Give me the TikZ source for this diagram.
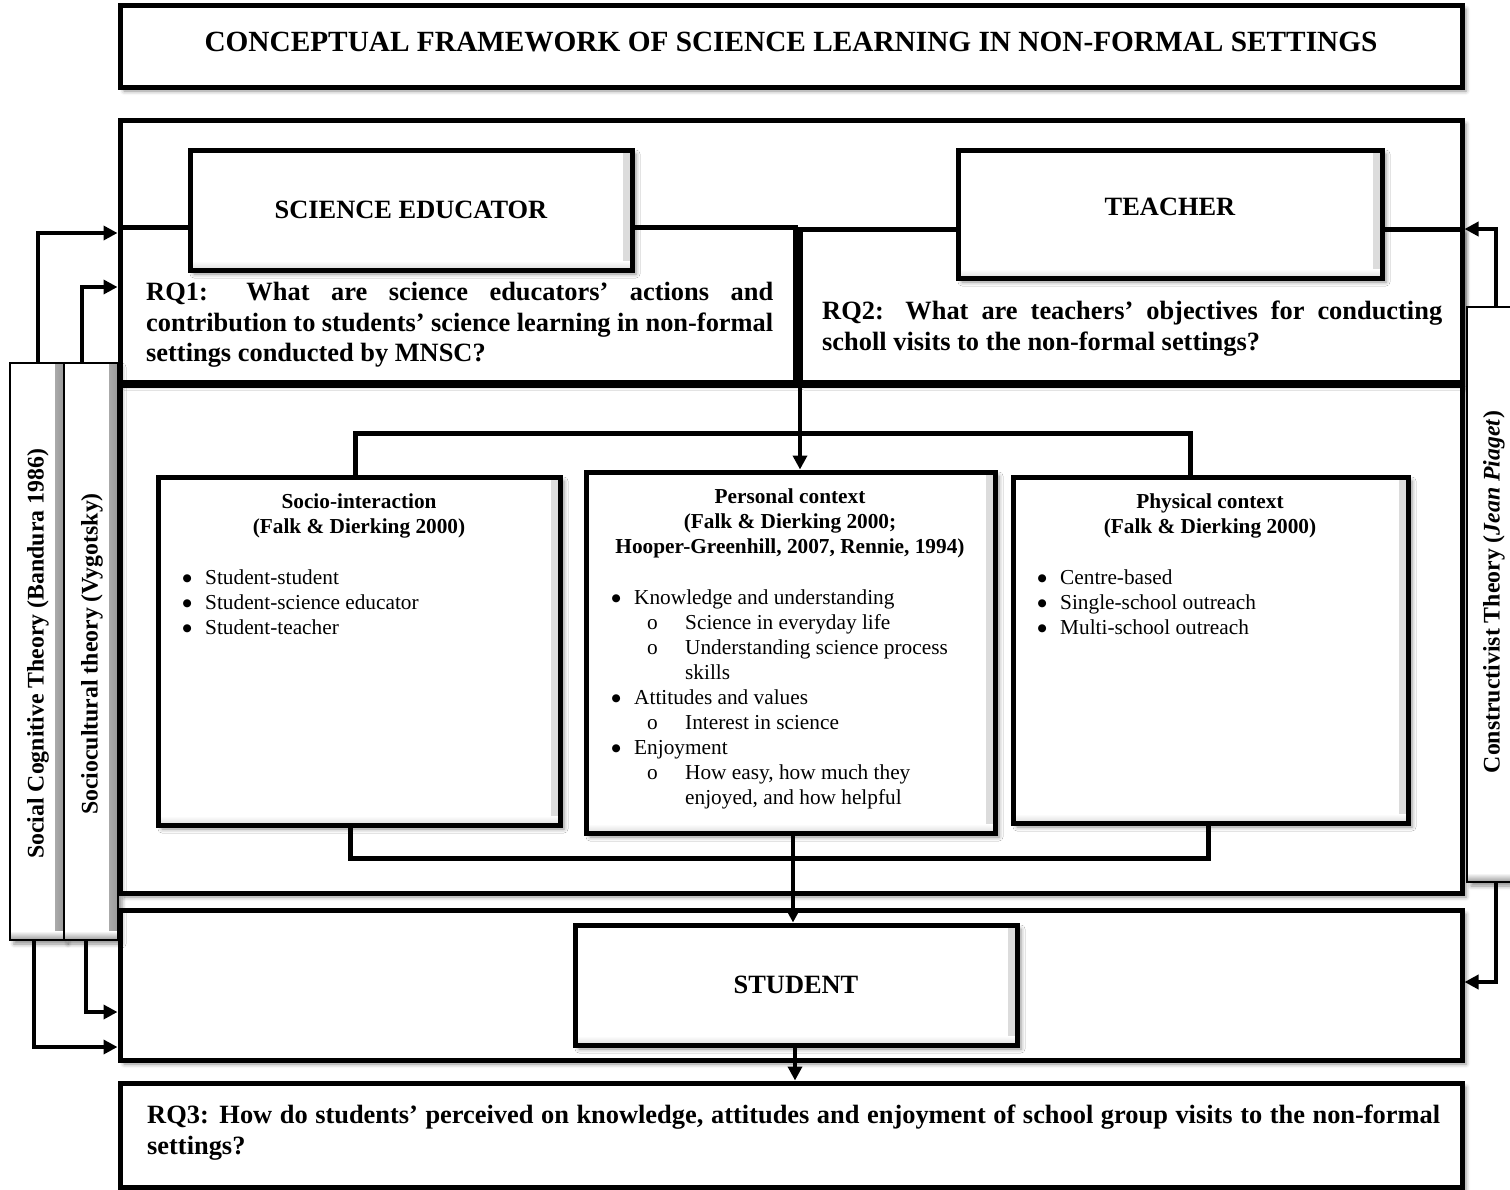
\documentclass[tikz,border=0pt]{standalone}
\usepackage{fontspec}
\setmainfont{Liberation Serif}
\newfontfamily\symfont{DejaVu Sans}
\usetikzlibrary{arrows.meta,shadows.blur}

% type sizes
\newcommand\txtbody{\fontsize{21.3}{25}\selectfont}
\newcommand\txthead{\fontsize{21.3}{25}\selectfont\bfseries}
\newcommand\txtrq{\fontsize{26.4}{30.5}\selectfont\bfseries}
\newcommand\txtbar{\fontsize{23.8}{28}\selectfont\bfseries}
\newcommand\txttitle{\fontsize{29.3}{34}\selectfont\bfseries}
% list markers
\newcommand\bul{\makebox[22pt][l]{\hspace*{-0.5pt}\raisebox{3.5pt}{\symfont\fontsize{10.5}{25}\selectfont ●}}}
\newcommand\subbul{\hspace*{35pt}\makebox[38pt][l]{o}}
\newcommand\subcont{\hspace*{73pt}}

\begin{document}
\begin{tikzpicture}[x=1pt,y=-1pt,
  softshadow/.style={blur shadow={shadow xshift=4pt,shadow yshift=-4pt,
      shadow blur radius=4pt,shadow opacity=45}},
  bevel/.style={path picture={
      \shade[left color=white,right color=black!#1]
        ([xshift=-9pt]path picture bounding box.north east)
        rectangle (path picture bounding box.south east);
      \shade[top color=white,bottom color=black!#1]
        ([yshift=9pt]path picture bounding box.south west)
        rectangle (path picture bounding box.south east);}},
  heavybox/.style={draw=black,line width=5pt,fill=white,inner sep=0pt,softshadow},
  keybox/.style={heavybox,bevel=14},
  barbox/.style={draw=black,line width=2pt,fill=white,inner sep=0pt,softshadow,bevel=40},
  txt/.style={inner sep=0pt,align=left},
  hdr/.style={inner sep=0pt,align=center,font=\txthead},
  lst/.style={inner sep=0pt,align=left,font=\txtbody},
  bartxt/.style={inner sep=0pt,font=\txtbar,rotate=90},
  conn/.style={line width=5pt},
  arr/.style={line width=4pt,-{Triangle[length=14pt,width=14pt]}}
]
\useasboundingbox (0,0) rectangle (1510,1189);

% ---- title ----
\node[heavybox,minimum width=1342,minimum height=82] (titlebox) at (791,46) {};
\node[inner sep=0pt,font=\txttitle] (ttl) at (791,42)
  {CONCEPTUAL FRAMEWORK OF SCIENCE LEARNING IN NON-FORMAL SETTINGS};

% ---- outer frames ----
\node[heavybox,minimum width=1342,minimum height=265] (frtop) at (791,252.5) {};
\node[heavybox,minimum width=1342,minimum height=508] (frmid) at (791,639) {};
\node[heavybox,minimum width=1342,minimum height=150] (frst) at (791,985) {};
\node[heavybox,minimum width=1342,minimum height=104] (rq3b) at (791,1135) {};
\node[txt,font=\txtrq,anchor=north west] (rq3t) at (147,1105)
  {\makebox[1293pt][s]{RQ3: How do students’ perceived on knowledge, attitudes and enjoyment of school group visits to the non-formal}\\
   settings?};

% ---- research questions 1 and 2 ----
\node[heavybox,minimum width=675,minimum height=155] (rq1b) at (457.5,304.5) {};
\node[heavybox,minimum width=662,minimum height=153] (rq2b) at (1131,305.5) {};
\coordinate (join) at (800,227);

% ---- actors ----
\node[keybox,minimum width=442,minimum height=120,font=\txtrq] (se) at (411,210)
  {SCIENCE EDUCATOR};
\node[keybox,minimum width=424,minimum height=128] (te) at (1170,214) {};
\node[inner sep=0pt,font=\txtrq] (tet) at (1170,207) {TEACHER};

\node[txt,font=\txtrq,anchor=north west] (rq1t) at (146,282)
  {\makebox[627pt][s]{RQ1: What are science educators’ actions and}\\
   \makebox[627pt][s]{contribution to students’ science learning in non-formal}\\
   settings conducted by MNSC?};
\node[txt,font=\txtrq,anchor=north west] (rq2t) at (822,301)
  {\makebox[620pt][s]{RQ2: What are teachers’ objectives for conducting}\\
   scholl visits to the non-formal settings?};

% ---- contexts ----
\node[keybox,minimum width=402,minimum height=348] (si) at (359,651) {};
\node[keybox,minimum width=409,minimum height=361] (pc) at (790.5,652.5) {};
\node[keybox,minimum width=395,minimum height=346] (ph) at (1210.5,650) {};

\draw[conn] (355,0 |- si.north) -- (355,433) -- (1190,433) -- (1190,0 |- ph.north);
\draw[conn] (350,0 |- si.south) -- (350,858) -- (1208,858) -- (1208,0 |- ph.south);
\draw[arr] (join) -- (join |- pc.north);

\node[hdr,anchor=north] (sih) at (359,494)
  {Socio-interaction\\(Falk \& Dierking 2000)};
\node[lst,anchor=north west] (sil) at (183,570)
  {\bul Student-student\\
   \bul Student-science educator\\
   \bul Student-teacher};

\node[hdr,anchor=north] (pch) at (790,489)
  {Personal context\\(Falk \& Dierking 2000;\\Hooper-Greenhill, 2007, Rennie, 1994)};
\node[lst,anchor=north west] (pcl) at (612,590)
  {\bul Knowledge and understanding\\
   \subbul Science in everyday life\\
   \subbul Understanding science process\\
   \subcont skills\\
   \bul Attitudes and values\\
   \subbul Interest in science\\
   \bul Enjoyment\\
   \subbul How easy, how much they\\
   \subcont enjoyed, and how helpful};

\node[hdr,anchor=north] (phh) at (1210,494)
  {Physical context\\(Falk \& Dierking 2000)};
\node[lst,anchor=north west] (phl) at (1038,570)
  {\bul Centre-based\\
   \bul Single-school outreach\\
   \bul Multi-school outreach};

% ---- student ----
\node[keybox,minimum width=442,minimum height=120,font=\txtrq] (st) at (796,985) {STUDENT};
\draw[arr] (793,0 |- pc.south) -- (793,0 |- st.north);
\draw[arr] (795,0 |- st.south) -- (795,0 |- rq3b.north);

% ---- theory bars ----
\node[barbox,minimum width=54,minimum height=577] (sct) at (37,651.5) {};
\node[barbox,minimum width=54,minimum height=577] (scb) at (91,651.5) {};
\node[barbox,minimum width=55,minimum height=575] (cst) at (1494.5,594.5) {};
\node[bartxt] (sctt) at (38,654) {Social Cognitive Theory (Bandura 1986)};
\node[bartxt] (scbt) at (92,654) {Sociocultural theory (Vygotsky)};
\node[bartxt] (cstt) at (1494,592) {Constructivist Theory (\textit{Jean Piaget})};

\draw[arr] (38,0 |- sct.north) |- (frtop.west |- 0,233);
\draw[arr] (82,0 |- scb.north) |- (frtop.west |- 0,287);
\draw[arr] (86,0 |- scb.south) |- (frst.west |- 0,1012);
\draw[arr] (34,0 |- sct.south) |- (frst.west |- 0,1047);
\draw[arr] (1496,0 |- cst.north) |- (frtop.east |- 0,229);
\draw[arr] (1496,0 |- cst.south) |- (frst.east |- 0,982);
\end{tikzpicture}
\end{document}
